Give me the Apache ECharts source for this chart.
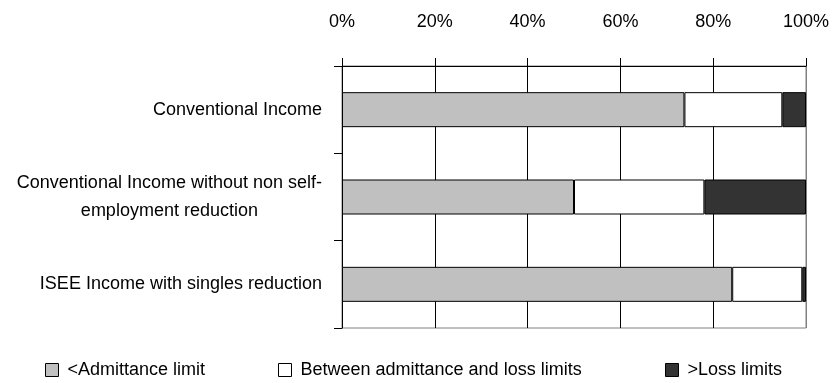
<!DOCTYPE html>
<html>
<head>
<meta charset="utf-8">
<script src="https://cdn.jsdelivr.net/npm/echarts@6/dist/echarts.min.js"></script>
<style>
  html, body { margin: 0; padding: 0; background: #fff; }
  #chart { width: 833px; height: 383px; }
</style>
</head>
<body>
<div id="chart"></div>
<script>
// categories, top to bottom
const categories = [
  'Conventional Income',
  'Conventional Income without non self-\nemployment reduction',
  'ISEE Income with singles reduction'
];
const seriesNames = ['<Admittance limit', 'Between admittance and loss limits', '>Loss limits'];

// shares in percent
const belowAdmittance = [73.8, 50.0, 84.1];
const betweenLimits = [21.1, 28.1, 15.1];
const aboveLoss = [5.1, 21.9, 0.8];

const xTicks = [0, 20, 40, 60, 80, 100];

const chart = echarts.init(document.getElementById('chart'));
const font = 'Arial, "Liberation Sans", sans-serif';

const makeBar = (name, values, color) => ({
  name: name,
  type: 'bar',
  stack: 'total',
  barWidth: 35,
  data: values,
  itemStyle: { color: color, borderColor: '#000', borderWidth: 1 },
  emphasis: { disabled: true }
});

const legendAt = (name, left) => ({
  data: [name],
  left: left,
  top: 361,
  padding: 0,
  itemWidth: 13,
  itemHeight: 13,
  icon: 'rect',
  itemStyle: { borderColor: '#000', borderWidth: 1 },
  textStyle: { fontSize: 18, color: '#000', fontFamily: font, padding: [0, 0, 0, 4] }
});

const option = {
  animation: false,
  textStyle: { fontFamily: font },
  grid: {
    left: 342, right: 27, top: 66, bottom: 55,
    show: true, borderColor: '#808080', borderWidth: 1
  },
  legend: [
    legendAt(seriesNames[0], 45),
    legendAt(seriesNames[1], 278),
    legendAt(seriesNames[2], 665)
  ],
  xAxis: {
    type: 'value',
    position: 'top',
    min: xTicks[0],
    max: xTicks[xTicks.length - 1],
    interval: 20,
    axisLine: { show: true, lineStyle: { color: '#000', width: 1 } },
    axisTick: { show: true, length: 8, lineStyle: { color: '#000' } },
    axisLabel: { formatter: '{value}%', fontSize: 18, color: '#000', margin: 35, fontFamily: font },
    splitLine: {
      show: true,
      lineStyle: { color: ['#000', '#000', '#000', '#000', '#000', '#808080'], width: 1 }
    }
  },
  yAxis: {
    type: 'category',
    inverse: true,
    data: categories,
    axisLine: { show: true, lineStyle: { color: '#000', width: 1 } },
    axisTick: { show: true, length: 8, lineStyle: { color: '#000' } },
    axisLabel: {
      margin: 20,
      fontSize: 18,
      color: '#000',
      fontFamily: font,
      formatter: (v) => v.split('\n').map((s) => '{c|' + s + '}').join('\n'),
      rich: { c: { align: 'center', fontSize: 18, lineHeight: 28, color: '#000', fontFamily: font } }
    },
    splitLine: { show: false }
  },
  series: [
    makeBar(seriesNames[0], belowAdmittance, '#C0C0C0'),
    makeBar(seriesNames[1], betweenLimits, '#FFFFFF'),
    makeBar(seriesNames[2], aboveLoss, '#333333')
  ]
};

chart.setOption(option);
</script>
</body>
</html>
